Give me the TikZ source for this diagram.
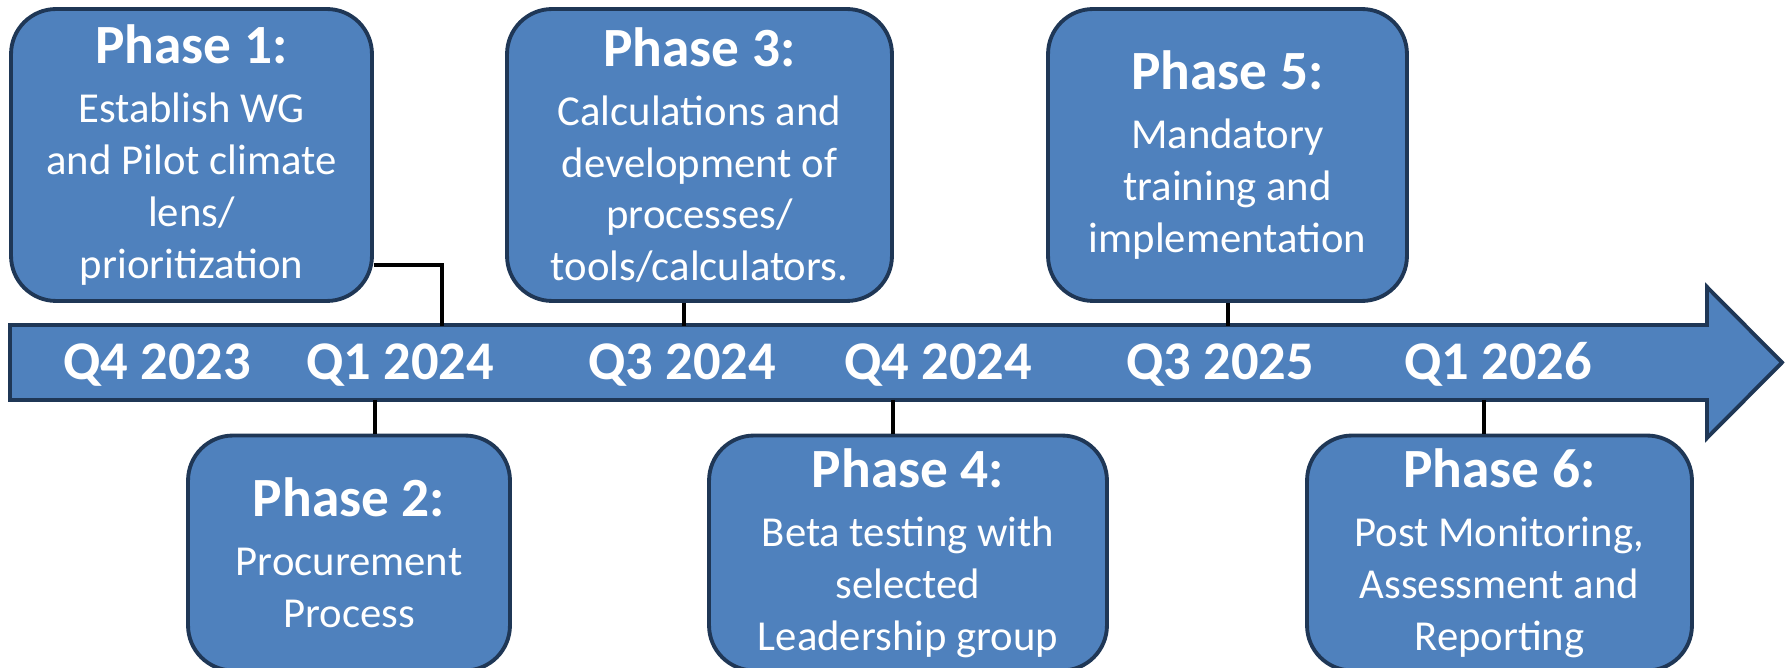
\documentclass[tikz,border=0pt]{standalone}
\usepackage{fontspec}
\setmainfont{Carlito}
\usetikzlibrary{calc}
\usetikzlibrary{positioning}

\definecolor{phaseblue}{HTML}{4F81BD}
\definecolor{phaseline}{HTML}{1F3756}

\tikzset{
  phase/.style={draw=phaseline,fill=phaseblue,line width=2.2pt,rounded corners=0.9cm,
    text=white,align=center,inner sep=0pt,font=\fontsize{24.3}{29.5}\selectfont},
  toprow/.style={phase,minimum height=5.84cm},
  lowrow/.style={phase,minimum height=4.7cm},
  timeline/.style={draw=phaseline,fill=phaseblue,line width=2.2pt},
  quarter/.style={text=white,anchor=base,font=\fontsize{31}{31}\selectfont\bfseries},
  link/.style={draw=black,line width=2.6pt},
  thinlink/.style={draw=black,line width=2pt}
}
\newcommand{\phasehead}[1]{{\fontsize{31.5}{31}\selectfont\bfseries #1}\\[4pt]}

\begin{document}
\begin{tikzpicture}[x=0.02cm,y=-0.02cm]
  \useasboundingbox (0,0) rectangle (1789,668);

  % Phasen oben
  \node[toprow,minimum width=7.22cm] (p1) at (191.5,155)
    {\phasehead{Phase 1:}Establish WG\\and Pilot climate\\lens/\\prioritization};
  \node[toprow,minimum width=7.7cm] (p3) at (699.5,155)
    {\phasehead{Phase 3:}Calculations and\\development of\\processes/\\tools/calculators.};
  \node[toprow,minimum width=7.18cm] (p5) at (1227.5,155)
    {\phasehead{Phase 5:}Mandatory\\training and\\implementation};

  % Phasen unten
  \node[lowrow,minimum width=6.44cm] (p2) at (349,553)
    {\phasehead{Phase 2:}Procurement\\Process};
  \node[lowrow,minimum width=7.96cm] (p4) at (908,553)
    {\phasehead{Phase 4:}Beta testing with\\selected\\Leadership group};
  \node[lowrow,minimum width=7.7cm] (p6) at (1499.5,553)
    {\phasehead{Phase 6:}Post Monitoring,\\Assessment and\\Reporting};

  % Zeitstrahl
  \draw[timeline] (10,325) -- (1707,325) -- (1707,287) -- (1782,362.5)
    -- (1707,438) -- (1707,400) -- (10,400) -- cycle;

  \foreach \x/\q [count=\i] in {157/Q4 2023,400/Q1 2024,682/Q3 2024,938/Q4 2024,1220/Q3 2025,1498/Q1 2026}
    \node[quarter] (q\i) at (\x,380) {\q};

  % Anschlusspunkte am Pfeil
  \coordinate (a1) at (442,326);
  \coordinate (a2) at (375,400);
  \coordinate (a3) at (684,326);
  \coordinate (a4) at (893,400);
  \coordinate (a5) at (1228,326);
  \coordinate (a6) at (1484,400);

  % Verbindungen
  \draw[thinlink] ([yshift=0.76cm]p1.south east) -| (a1);
  \foreach \i in {3,5}
    \draw[link] (a\i) -- (a\i |- p\i.south);
  \foreach \i in {2,4,6}
    \draw[link] (a\i) -- (a\i |- p\i.north);
\end{tikzpicture}
\end{document}
